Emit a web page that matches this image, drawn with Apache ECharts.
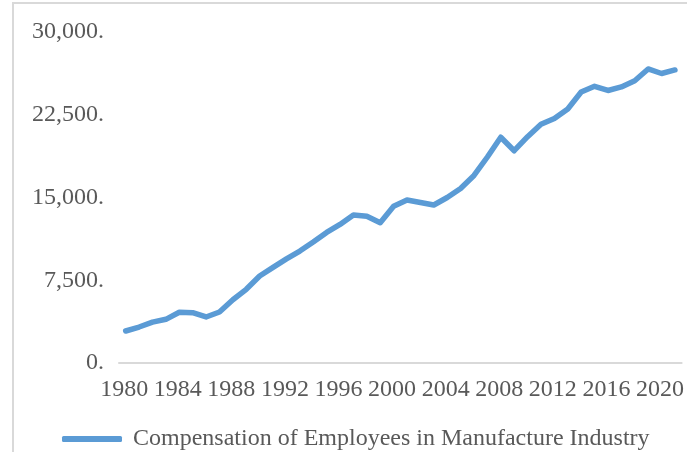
<!DOCTYPE html>
<html>
<head>
<meta charset="utf-8">
<script src="https://cdn.jsdelivr.net/npm/echarts@6/dist/echarts.min.js"></script>
<style>html,body{margin:0;padding:0;background:#fff}#c{width:687px;height:452px}</style>
</head>
<body>
<div id="c"></div>
<script>
const years = ["1980","1981","1982","1983","1984","1985","1986","1987","1988","1989","1990","1991","1992","1993","1994","1995","1996","1997","1998","1999","2000","2001","2002","2003","2004","2005","2006","2007","2008","2009","2010","2011","2012","2013","2014","2015","2016","2017","2018","2019","2020","2021"];
const compensation = [2900,3260,3700,3960,4600,4560,4170,4620,5730,6680,7880,8670,9430,10150,10970,11830,12560,13410,13300,12720,14200,14770,14550,14320,15000,15820,17000,18670,20460,19240,20510,21630,22160,23020,24560,25080,24700,25020,25580,26650,26240,26560];
const seriesName = "Compensation of Employees in Manufacture Industry";
const yTicks = [0, 7500, 15000, 22500, 30000];

const chart = echarts.init(document.getElementById('c'), null, {renderer:'canvas'});
const font = "'Liberation Serif', 'Times New Roman', serif";
chart.setOption({
  animation: false,
  backgroundColor: '#fff',
  graphic: [{
    type: 'polyline',
    shape: {points: [[13, 452], [13, 3], [687, 3]]},
    style: {stroke: '#d9d9d9', lineWidth: 2, fill: null}
  }],
  grid: {left: 119, right: 2, top: 32, bottom: 89},
  xAxis: {
    type: 'category',
    data: years,
    boundaryGap: true,
    axisLine: {show: true, lineStyle: {color: '#d9d9d9', width: 2}},
    axisTick: {show: false},
    axisLabel: {interval: 3, color: '#595959', fontFamily: font, fontSize: 24, margin: 15, padding: [0, 3, 0, 0], hideOverlap: false}
  },
  yAxis: {
    type: 'value',
    min: yTicks[0],
    max: yTicks[yTicks.length - 1],
    interval: 7500,
    splitLine: {show: false},
    axisLine: {show: false},
    axisTick: {show: false},
    axisLabel: {
      color: '#595959', fontFamily: font, fontSize: 24, margin: 15,
      formatter: v => v.toLocaleString('en-US') + '.'
    }
  },
  legend: {
    left: 57, top: 422,
    icon: 'roundRect',
    itemWidth: 60, itemHeight: 6,
    textStyle: {color: '#595959', fontFamily: font, fontSize: 24, padding: [0, 0, 0, 6]},
    data: [seriesName]
  },
  series: [{
    name: seriesName,
    type: 'line',
    data: compensation,
    symbol: 'none',
    lineStyle: {color: '#5B9BD5', width: 5.5, cap: 'round', join: 'round'},
    itemStyle: {color: '#5B9BD5'}
  }]
});
</script>
</body>
</html>
